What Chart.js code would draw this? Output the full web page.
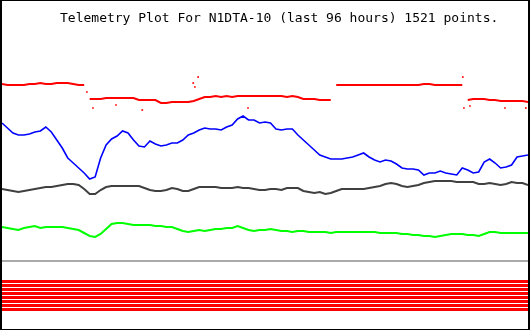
<!DOCTYPE html>
<html>
<head>
<meta charset="utf-8">
<script src="https://cdn.jsdelivr.net/npm/chart.js@4/dist/chart.umd.min.js"></script>
<style>
  html, body { margin:0; padding:0; background:#fff; }
  #frame { width:530px; height:330px; box-sizing:border-box; border-style:solid; border-color:#000; border-width:1px 2px 1px 2px; }
  #telemChart { display:block; }
</style>
</head>
<body>
<div id="frame"><canvas id="telemChart" width="526" height="328"></canvas></div>
<script>
// Telemetry for N1DTA-10, last 96 hours, sampled once per hour (plot units, 0 = bottom)
const TITLE = 'Telemetry Plot For N1DTA-10 (last 96 hours) 1521 points.';
const hours = Array.from({ length: 97 }, (_, i) => i);

const redVals = [
    245, 244, 244, 244, 244, 245, 245, 246, 245, 245,
    246, 246, 246, 245, 244, 244, 230, 230, 230, 231,
    231, 231, 231, 231, 231, 229, 229, 229, 229, 226,
    226, 227, 227, 227, 227, 228, 230, 232, 232, 233,
    232, 233, 232, 233, 233, 233, 233, 233, 233, 233,
    233, 233, 232, 233, 232, 230, 230, 230, 229, 229,
    229, 244, 244, 244, 244, 244, 244, 244, 244, 244,
    244, 244, 244, 244, 244, 244, 244, 245, 245, 244,
    244, 244, 244, 244, 244, 229, 230, 230, 230, 229,
    229, 228, 228, 228, 228, 228, 227
];
// stray red readings
const redSpikeHours = [15.5, 16.6, 20.8, 25.6, 34.9, 35.2, 35.8, 44.9, 84.1, 84.3, 85.4, 91.8, 95.6];
const redSpikeVals  = [237, 221, 224, 219, 246, 242, 252, 221, 252, 221, 223, 221, 221];

const blueVals = [
    206, 201, 196, 194, 194, 195, 197, 198, 202, 197,
    189, 181, 171, 166, 161, 156, 150, 152, 171, 184,
    190, 193, 198, 196, 189, 183, 182, 188, 185, 183,
    184, 186, 186, 189, 194, 196, 199, 201, 200, 200,
    199, 202, 204, 210, 213, 209, 209, 206, 207, 206,
    200, 199, 200, 200, 194, 189, 184, 179, 174, 172,
    170, 170, 170, 171, 172, 174, 176, 172, 169, 167,
    169, 168, 165, 161, 160, 160, 159, 154, 156, 156,
    158, 156, 155, 154, 161, 159, 156, 157, 167, 170,
    166, 161, 162, 164, 172, 173, 174
];

const grayVals = [
    140, 139, 138, 137, 138, 139, 140, 141, 142, 142,
    143, 144, 145, 145, 144, 140, 135, 135, 139, 142,
    143, 143, 143, 143, 143, 143, 141, 139, 138, 138,
    139, 141, 140, 138, 138, 140, 142, 142, 142, 142,
    141, 141, 141, 142, 141, 141, 140, 139, 139, 140,
    140, 139, 141, 141, 141, 138, 137, 136, 137, 135,
    136, 138, 140, 140, 140, 140, 140, 141, 142, 143,
    145, 146, 145, 143, 142, 143, 144, 146, 147, 148,
    148, 148, 148, 147, 147, 147, 147, 145, 145, 146,
    145, 144, 145, 147, 146, 146, 144
];

const greenVals = [
    102, 101, 100, 99, 101, 102, 103, 101, 102, 102,
    102, 102, 101, 100, 99, 96, 93, 92, 95, 100,
    105, 106, 106, 105, 104, 104, 104, 104, 103, 103,
    102, 102, 100, 98, 97, 98, 99, 98, 99, 100,
    100, 101, 101, 103, 101, 99, 98, 99, 99, 100,
    99, 98, 98, 97, 98, 98, 97, 97, 97, 97,
    96, 97, 97, 97, 97, 97, 97, 97, 97, 96,
    96, 96, 96, 95, 95, 94, 94, 93, 93, 92,
    93, 94, 95, 95, 95, 94, 94, 93, 95, 97,
    97, 96, 96, 96, 96, 96, 96
];

// separator and the eight digital bits (all set)
const separatorLevel = 68;
const bitLevels = [47.5, 43.5, 39.5, 35.5, 31.5, 27.5, 23.5, 19.5];

const pts = vals => hours.map((h, i) => ({ x: h, y: vals[i] }));
const flat = y => [{ x: hours[0], y }, { x: hours[hours.length - 1], y }];

const titlePlugin = {
    id: 'plotTitle',
    afterDraw(chart) {
        const ctx = chart.ctx;
        ctx.save();
        ctx.fillStyle = '#000';
        ctx.font = '13px "DejaVu Sans Mono", "Liberation Mono", monospace';
        ctx.textBaseline = 'alphabetic';
        ctx.fillText(TITLE, 58, 21);
        ctx.restore();
    }
};

const datasets = [
    { label: 'separator', data: flat(separatorLevel), borderColor: '#aaaaaa', borderWidth: 2 },
    ...bitLevels.map((lv, i) => ({ label: 'bit ' + (i + 1), data: flat(lv), borderColor: '#ff0000', borderWidth: 3 })),
    { label: 'green', data: pts(greenVals), borderColor: '#00ff00', borderWidth: 2 },
    { label: 'gray', data: pts(grayVals), borderColor: '#404040', borderWidth: 2 },
    { label: 'blue', data: pts(blueVals), borderColor: '#0000ff', borderWidth: 1.6 },
    {
        label: 'red', data: pts(redVals), borderColor: '#ff0000', borderWidth: 2,
        segment: { borderColor: c => Math.abs(c.p1.parsed.y - c.p0.parsed.y) > 8 ? 'rgba(0,0,0,0)' : '#ff0000' }
    },
    {
        label: 'red spikes', data: redSpikeHours.map((h, i) => ({ x: h, y: redSpikeVals[i] })),
        showLine: false, pointRadius: 1.2, pointStyle: 'rect', backgroundColor: '#ff0000', borderWidth: 0
    }
];

new Chart(document.getElementById('telemChart'), {
    type: 'line',
    data: { datasets: datasets.map(d => Object.assign({ pointRadius: 0, tension: 0, fill: false }, d)) },
    options: {
        responsive: false, animation: false, devicePixelRatio: 1,
        layout: { padding: 0, autoPadding: false },
        scales: {
            x: { type: 'linear', display: false, min: 0, max: 96 },
            y: { display: false, min: 0, max: 328 }
        },
        plugins: { legend: { display: false }, tooltip: { enabled: false }, title: { display: false } }
    },
    plugins: [titlePlugin]
});
</script>
</body>
</html>
